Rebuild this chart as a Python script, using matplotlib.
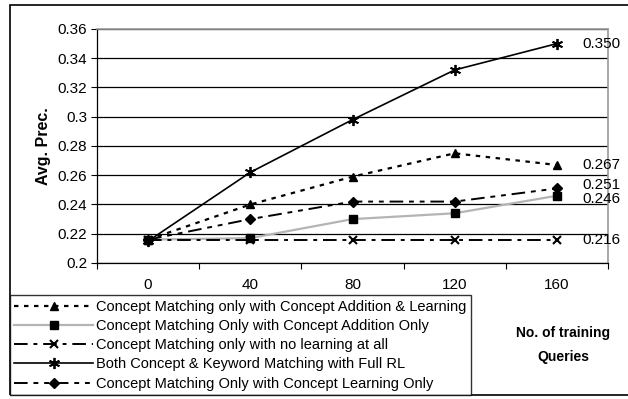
import matplotlib
matplotlib.use("Agg")
import matplotlib.pyplot as plt
from matplotlib.patches import Rectangle

plt.rcParams['font.family'] = ['Liberation Sans', 'DejaVu Sans']

# data
queries = ['0', '40', '80', '120', '160']
add_learn = [0.216, 0.240, 0.259, 0.275, 0.267]
add_only = [0.216, 0.217, 0.230, 0.234, 0.246]
no_learn = [0.216, 0.216, 0.216, 0.216, 0.216]
full_rl = [0.215, 0.262, 0.298, 0.332, 0.350]
learn_only = [0.216, 0.230, 0.242, 0.242, 0.251]

names = ['Concept Matching only with Concept Addition & Learning',
         'Concept Matching Only with Concept Addition Only',
         'Concept Matching only with no learning at all',
         'Both Concept & Keyword Matching with Full RL',
         'Concept Matching Only with Concept Learning Only']

fig = plt.figure(figsize=(6.28, 3.99), dpi=100)
ax = fig.add_axes([97 / 628, 1 - 263 / 399, 511 / 628, 234 / 399])

x = range(len(queries))
series = [
    (add_learn, dict(color='black', lw=1.6, ls=(0, (2, 2.5)), marker='^', ms=6)),
    (add_only, dict(color='#b4b4b4', lw=1.6, ls='-', marker='s', ms=6, mfc='black', mec='black')),
    (no_learn, dict(color='black', lw=1.4, ls=(0, (7, 3, 2, 3)), marker='x', ms=6, mew=1.5)),
    (full_rl, dict(color='black', lw=1.2, ls='-', marker=(6, 2, 0), ms=8, mew=1.3)),
    (learn_only, dict(color='black', lw=1.4, ls=(0, (7, 3, 2.5, 3, 2.5, 3)), marker='D', ms=5)),
]
handles = []
for vals, style in series:
    h, = ax.plot(x, vals, **style)
    handles.append(h)

# value labels at the last point (the two close ones nudged apart a little)
nudges = [(full_rl, 0), (add_learn, 0), (learn_only, 2.5), (add_only, -2.5), (no_learn, 0)]
for vals, dy in nudges:
    ax.annotate(f'{vals[-1]:.3f}', (4, vals[-1]), xytext=(18, dy),
                textcoords='offset points', va='center', ha='left', fontsize=11)

ax.set_xlim(-0.5, 4.5)
ax.set_ylim(0.2, 0.36)
ax.set_yticks([0.2 + 0.02 * i for i in range(9)])
ax.set_yticklabels(['0.2', '0.22', '0.24', '0.26', '0.28', '0.3', '0.32', '0.34', '0.36'])
ax.set_xticks(list(x))
ax.set_xticklabels(queries)
ax.set_xticks([i - 0.5 for i in range(6)], minor=True)
ax.tick_params(axis='x', which='major', length=0, pad=11, labelsize=11)
ax.tick_params(axis='x', which='minor', length=4, width=0.8, direction='out')
ax.tick_params(axis='y', length=4, width=0.8, direction='out', labelsize=11, pad=3)
ax.grid(axis='y', color='black', lw=0.9)
ax.set_axisbelow(True)
for s in ['top', 'right']:
    ax.spines[s].set_color('#999999')
    ax.spines[s].set_linewidth(1.2)
for s in ['left', 'bottom']:
    ax.spines[s].set_color('black')
    ax.spines[s].set_linewidth(0.9)

ax.set_ylabel('Avg. Prec.', fontweight='bold', fontsize=11.5)
ax.yaxis.set_label_coords(-0.09, 0.5)

fig.text(563 / 628, 1 - 333 / 399, 'No. of training', ha='center', va='center',
         fontweight='bold', fontsize=10)
fig.text(563 / 628, 1 - 357 / 399, 'Queries', ha='center', va='center',
         fontweight='bold', fontsize=10)

# outer chart frame (right edge is cut off in the reference)
fig.patches.append(Rectangle((10 / 628, 1 - 395 / 399), 1.0, 390 / 399,
                             transform=fig.transFigure, fill=False,
                             edgecolor='black', lw=1.2))

leg = fig.legend(handles, names, loc='lower left',
                 bbox_to_anchor=(10 / 628, 1 - 395 / 399), borderaxespad=0,
                 fontsize=10.5, frameon=True, fancybox=False, handlelength=5.4,
                 handletextpad=0.2, labelspacing=0.36, borderpad=0.3)
leg.get_frame().set_edgecolor('black')
leg.get_frame().set_linewidth(1.0)

fig.savefig('out.png', dpi=100, facecolor='white')
